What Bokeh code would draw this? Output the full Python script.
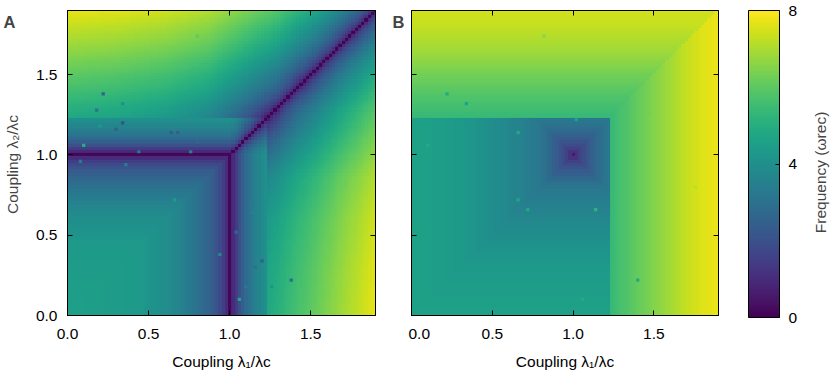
import numpy as np
from bokeh.plotting import figure
from bokeh.models import (LinearColorMapper, ColorBar, FixedTicker, LinearAxis,
                          Range1d, Label, ColumnDataSource, NumeralTickFormatter)
from bokeh.layouts import row
from bokeh.palettes import Viridis256
from bokeh.embed import file_html
from bokeh.resources import INLINE

# ---------------- values ----------------
# Panel A: frequency along the lower edge (lambda2 ~ 0) as a function of lambda1
a_edge_lam = [0.00, 0.10, 0.20, 0.30, 0.40, 0.46, 0.50, 0.60, 0.70, 0.80, 0.85, 0.90,
              0.94, 0.97, 0.99, 1.00, 1.01, 1.03, 1.06, 1.10, 1.15, 1.20, 1.23, 1.24,
              1.30, 1.40, 1.50, 1.60, 1.70, 1.80, 1.90]
a_edge_val = [4.50, 4.50, 4.45, 4.40, 4.35, 4.30, 4.15, 3.95, 3.55, 3.00, 2.70, 2.30,
              1.80, 1.30, 0.80, 0.15, 0.70, 1.20, 2.00, 2.80, 3.40, 3.85, 4.10, 4.85,
              5.10, 5.60, 6.00, 6.45, 6.90, 7.30, 7.75]
# Panel A: frequency along the right edge (lambda1 = 1.9) as a function of lambda2
a_right_lam2 = [0.00, 0.30, 0.60, 0.87, 1.08, 1.28, 1.49, 1.66, 1.78, 1.86, 1.90]
a_right_val = [7.75, 7.65, 7.45, 7.10, 6.50, 5.90, 4.80, 3.20, 2.30, 1.10, 0.15]
jump_lam = 1.23   # coupling where both maps change abruptly

# Panel B: frequency along lambda2 = 1 for lambda1 <= 1 (ring profile around (1, 1))
b_mid_lam = [0.00, 0.20, 0.30, 0.40, 0.50, 0.60, 0.70, 0.80, 0.85, 0.90, 0.95, 0.98, 1.00]
b_mid_val = [4.60, 4.45, 4.35, 4.15, 3.95, 3.70, 3.45, 3.15, 2.75, 2.30, 1.70, 1.20, 0.50]
# Panel B: outer region, right part (vs lambda1) and upper part (vs lambda2)
b_right_lam = [1.24, 1.30, 1.40, 1.50, 1.60, 1.70, 1.80, 1.90]
b_right_val = [5.40, 5.70, 6.10, 6.50, 6.90, 7.30, 7.60, 7.80]
b_top_lam = [1.24, 1.30, 1.40, 1.50, 1.60, 1.70, 1.80, 1.90]
b_top_val = [5.40, 5.60, 5.95, 6.30, 6.70, 7.00, 7.30, 7.45]

# isolated outlier cells
a_dot_l1 = [0.22, 0.34, 0.18, 0.30, 0.64, 0.68, 0.10, 0.34, 0.20, 0.80, 0.80, 0.08, 0.36,
            0.44, 0.76, 0.66, 1.14, 1.14, 1.20, 1.38, 1.06, 0.94, 1.04, 1.26, 1.32, 1.16,
            1.10, 1.72]
a_dot_l2 = [1.38, 1.20, 1.28, 1.16, 1.14, 1.14, 1.06, 1.32, 1.18, 1.74, 1.08, 0.96, 0.94,
            1.02, 1.02, 0.72, 0.68, 0.64, 0.34, 0.22, 0.10, 0.38, 0.52, 0.18, 0.34, 0.30,
            0.18, 0.82]
a_dot_val = [2.6, 2.0, 3.0, 2.5, 2.3, 2.4, 5.0, 4.0, 4.3, 6.0, 2.6, 3.3, 3.4,
             3.3, 3.6, 4.4, 3.4, 3.6, 2.4, 2.8, 4.7, 3.8, 2.7, 4.2, 5.0, 3.0,
             3.2, 6.2]
b_dot_l1 = [0.22, 0.34, 0.34, 0.66, 0.66, 0.72, 1.14, 1.40, 0.82, 1.48, 0.10, 1.06, 1.76, 1.02]
b_dot_l2 = [1.38, 1.32, 1.20, 1.14, 0.72, 0.66, 0.66, 0.22, 1.74, 1.22, 1.06, 0.10, 0.80, 1.22]
b_dot_val = [4.9, 4.6, 4.2, 4.9, 4.7, 4.8, 5.2, 4.9, 6.6, 6.5, 4.9, 4.9, 7.2, 4.5]

tick_vals = [0.0, 0.5, 1.0, 1.5]
cbar_ticks = [0, 4, 8]

# ---------------- build the cell grids from the read profiles ----------------
cell = 0.02
lam = np.round(np.arange(0, 1.9 + cell / 2, cell), 2)
L1, L2 = np.meshgrid(lam, lam)
m = np.maximum(L1, L2)
n = np.minimum(L1, L2)

E_m = np.interp(m, a_edge_lam, a_edge_val)
E_n1 = np.interp(np.maximum(n, 1.0), a_edge_lam, a_edge_val)
G_n = np.sqrt(np.clip(a_edge_val[-1] ** 2 - np.interp(n, a_right_lam2, a_right_val) ** 2, 0, None))
G_n = np.where(n > jump_lam, np.minimum(G_n, np.interp(n, a_edge_lam, a_edge_val)), G_n)
za = E_m.copy()
mid = (m > 1.0) & (m <= jump_lam)
za[mid] = np.sqrt(np.clip(E_m ** 2 - E_n1 ** 2, 0, None))[mid]
outer = m > jump_lam
za[outer] = np.sqrt(np.clip(E_m ** 2 - G_n ** 2, 0, None))[outer]

cheb = np.maximum(np.abs(L1 - 1), np.abs(L2 - 1))
zb_inner = np.interp(1 - cheb, b_mid_lam, b_mid_val)
zb_right = np.interp(L1, b_right_lam, b_right_val)
zb_top = np.interp(L2, b_top_lam, b_top_val)
zb = np.where(m > jump_lam, np.where(L1 >= L2, zb_right, zb_top), zb_inner)

# ---------------- figures ----------------
FONT = "Liberation Sans"
FS = "15.5px"
H = 372
TOP, BOTTOM = 10, 55          # frame borders shared by every figure of the row
FRAME_H = H - TOP - BOTTOM
mapper = LinearColorMapper(palette=Viridis256, low=0, high=8)


def text_strip(width, right=0):
    """A plain strip whose frame uses pixel units."""
    p = figure(width=width, height=H, x_range=Range1d(0, width - right),
               y_range=Range1d(0, FRAME_H),
               output_backend="svg", toolbar_location=None,
               min_border_left=0, min_border_right=right,
               min_border_top=TOP, min_border_bottom=BOTTOM,
               x_axis_location=None, y_axis_location=None, outline_line_color=None,
               background_fill_color="white", border_fill_color="white")
    p.grid.visible = False
    return p


def hide_labels(ax):
    ax.major_label_text_font_size = "0px"
    ax.major_label_text_color = None
    ax.major_label_standoff = 0


def heat_fig(width, left, right):
    p = figure(width=width, height=H, x_range=Range1d(0, 1.9), y_range=Range1d(0, 1.9),
               output_backend="svg", toolbar_location=None,
               min_border_left=left, min_border_right=right,
               min_border_top=TOP, min_border_bottom=BOTTOM,
               background_fill_color="white", border_fill_color="white",
               outline_line_color="black")
    p.grid.visible = False
    p.add_layout(LinearAxis(), "above")
    p.add_layout(LinearAxis(), "right")
    for ax in p.axis:
        ax.ticker = FixedTicker(ticks=tick_vals)
        ax.formatter = NumeralTickFormatter(format="0.0")
        ax.major_tick_in = 5
        ax.major_tick_out = 0
        ax.minor_tick_in = 0
        ax.minor_tick_out = 0
        ax.minor_tick_line_color = None
        ax.major_tick_line_color = "black"
        ax.axis_line_color = "black"
        ax.major_label_text_font = FONT
        ax.major_label_text_font_size = FS
        ax.major_label_text_color = "black"
        ax.axis_label_text_font = FONT
        ax.axis_label_text_font_size = FS
        ax.axis_label_text_font_style = "normal"
        ax.axis_label_text_color = "black"
    hide_labels(p.above[0])
    hide_labels(p.right[0])
    p.below[0].axis_label = "Coupling λ₁/λc"
    p.below[0].major_label_standoff = 13
    p.below[0].axis_label_standoff = 11
    return p


def draw_cells(p, z, d1, d2, dv):
    p.image(image=[z], x=-cell / 2, y=-cell / 2, dw=1.9 + cell, dh=1.9 + cell,
            color_mapper=mapper)
    src = ColumnDataSource(dict(l1=d1, l2=d2, v=dv))
    p.rect(x="l1", y="l2", width=cell, height=cell, source=src,
           fill_color={"field": "v", "transform": mapper}, line_color=None)


# left strip: panel letter A and the y-axis title
pl = text_strip(30)
pl.add_layout(Label(x=3, y=FRAME_H - 11.5, text="A", text_font=FONT, text_font_size="16.5px",
                    text_font_style="bold", text_align="left", text_baseline="alphabetic"))
pl.add_layout(Label(x=12, y=152, text="Coupling λ₂/λc", angle=90, angle_units="deg",
                    text_font=FONT, text_font_size=FS, text_align="center",
                    text_baseline="middle"))

# Panel A
pa = heat_fig(358, 37, 13)
draw_cells(pa, za, a_dot_l1, a_dot_l2, a_dot_val)
pa.left[0].major_label_standoff = 10

# middle strip: panel letter B
pm = text_strip(20)
pm.add_layout(Label(x=4, y=FRAME_H - 11.5, text="B", text_font=FONT, text_font_size="16.5px",
                    text_font_style="bold", text_align="left", text_baseline="alphabetic"))

# Panel B
pb = heat_fig(312, 3, 2)
draw_cells(pb, zb, b_dot_l1, b_dot_l2, b_dot_val)
hide_labels(pb.left[0])

# colour bar: empty 31px frame, the bar sits in the right-hand side panel
pc = text_strip(80, right=49)
cb = ColorBar(color_mapper=mapper, ticker=FixedTicker(ticks=cbar_ticks),
              width=31, height=FRAME_H, padding=0, margin=0,
              bar_line_color="black", major_tick_in=4, major_tick_out=0,
              major_tick_line_color="black", minor_tick_line_color=None,
              label_standoff=9, major_label_text_font=FONT,
              major_label_text_font_size=FS, major_label_text_color="black",
              border_line_color=None, background_fill_color=None)
pc.add_layout(cb, "right")

# colour bar title strip
pr = text_strip(31)
pr.add_layout(Label(x=20, y=144, text="Frequency (ωrec)", angle=90, angle_units="deg",
                    text_font=FONT, text_font_size=FS, text_align="center",
                    text_baseline="middle"))

layout = row(pl, pa, pm, pb, pc, pr)
open("out.html", "w").write(file_html(layout, INLINE))
